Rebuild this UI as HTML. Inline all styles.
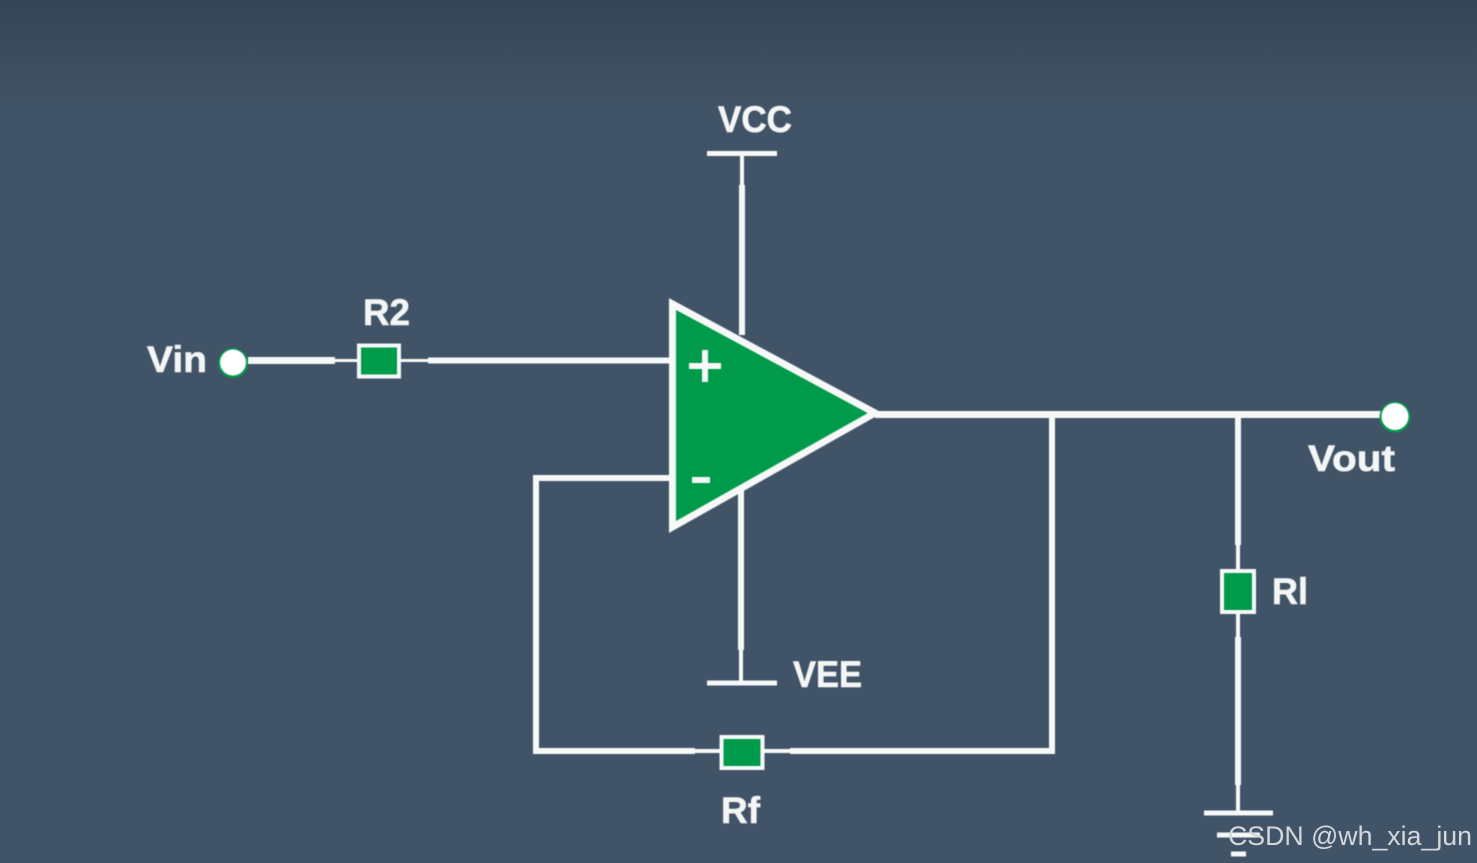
<!DOCTYPE html>
<html><head><meta charset="utf-8"><style>
html,body{margin:0;padding:0;background:#415367}
svg{display:block}
.l{font-family:"Liberation Sans",sans-serif;font-weight:700;fill:#f4f6f6;stroke:#f4f6f6;stroke-width:.6px;font-size:37px}
</style></head><body>
<svg width="1477" height="863" viewBox="0 0 1477 863" xmlns="http://www.w3.org/2000/svg">
<defs>
<linearGradient id="bg" x1="0" y1="0" x2="0" y2="1"><stop offset="0" stop-color="#364555"/><stop offset="0.13" stop-color="#415367"/><stop offset="1" stop-color="#415367"/></linearGradient>
<filter id="s" x="-5%" y="-5%" width="110%" height="110%" color-interpolation-filters="sRGB"><feGaussianBlur stdDeviation="0.6"/></filter>
</defs>
<rect width="1477" height="863" fill="url(#bg)"/>
<g filter="url(#s)">
<g stroke="#f7f9f9" fill="none" stroke-linecap="butt">
<path d="M742 154V185" stroke-width="4"/>
<path d="M742 185V335" stroke-width="6"/>
<path d="M707 153.500H777" stroke-width="5"/>
<path d="M741 490V650" stroke-width="6"/>
<path d="M741 650V684" stroke-width="4"/>
<path d="M707 683H777" stroke-width="5"/>
<path d="M248 360.500H335" stroke-width="7"/>
<path d="M335 360.500H358" stroke-width="3"/>
<path d="M400 360.500H428" stroke-width="3"/>
<path d="M428 360.500H672" stroke-width="6"/>
<path d="M672 478H536V751H695" stroke-width="6"/>
<path d="M695 751H720" stroke-width="4"/>
<path d="M763 751H790" stroke-width="4"/>
<path d="M790 751H1052V414" stroke-width="6"/>
<path d="M875 414.500H1385" stroke-width="7"/>
<path d="M1238 414V545" stroke-width="6"/>
<path d="M1238 545V572" stroke-width="4"/>
<path d="M1238 610V637" stroke-width="4"/>
<path d="M1238 637V785" stroke-width="6"/>
<path d="M1238 785V813" stroke-width="4"/>
<path d="M1204 813H1273" stroke-width="5"/>
<path d="M1217 835H1260" stroke-width="5"/>
<path d="M1231 854H1246" stroke-width="5"/>
</g>
<polygon points="672.500,304 875,413 672.500,527" fill="#009b4a" stroke="#f7f9f9" stroke-width="7" stroke-linejoin="miter"/>
<path d="M689 366H721M705 350V382" stroke="#f7f9f9" stroke-width="6" fill="none"/>
<path d="M692 480H710" stroke="#f7f9f9" stroke-width="6" fill="none"/>
<g fill="#009b4a" stroke="#f7f9f9" stroke-width="4">
<rect x="359" y="345.500" width="40" height="31"/>
<rect x="721.500" y="737" width="41" height="31"/>
<rect x="1222" y="571" width="32" height="41"/>
</g>
<circle cx="233" cy="363" r="15" fill="#009b4a"/><circle cx="233" cy="362.500" r="13" fill="#fff"/>
<circle cx="1395" cy="417" r="15.500" fill="#009b4a"/><circle cx="1395" cy="416.500" r="13.500" fill="#fff"/>
<text class="l" x="718" y="132" textLength="74" lengthAdjust="spacingAndGlyphs">VCC</text>
<text class="l" x="793" y="687" textLength="69" lengthAdjust="spacingAndGlyphs">VEE</text>
<text class="l" x="147" y="372" textLength="60" lengthAdjust="spacingAndGlyphs">Vin</text>
<text class="l" x="363" y="325" textLength="47" lengthAdjust="spacingAndGlyphs">R2</text>
<text class="l" x="1308" y="471" textLength="87" lengthAdjust="spacingAndGlyphs">Vout</text>
<text class="l" x="1272" y="604" textLength="36" lengthAdjust="spacingAndGlyphs">Rl</text>
<text class="l" x="721" y="823" textLength="39" lengthAdjust="spacingAndGlyphs">Rf</text>
</g>
<text x="1228" y="845" font-family="'Liberation Sans',sans-serif" font-size="27" fill="#d3d8dc" textLength="244" lengthAdjust="spacingAndGlyphs">CSDN @wh_xia_jun</text>
</svg>
</body></html>
